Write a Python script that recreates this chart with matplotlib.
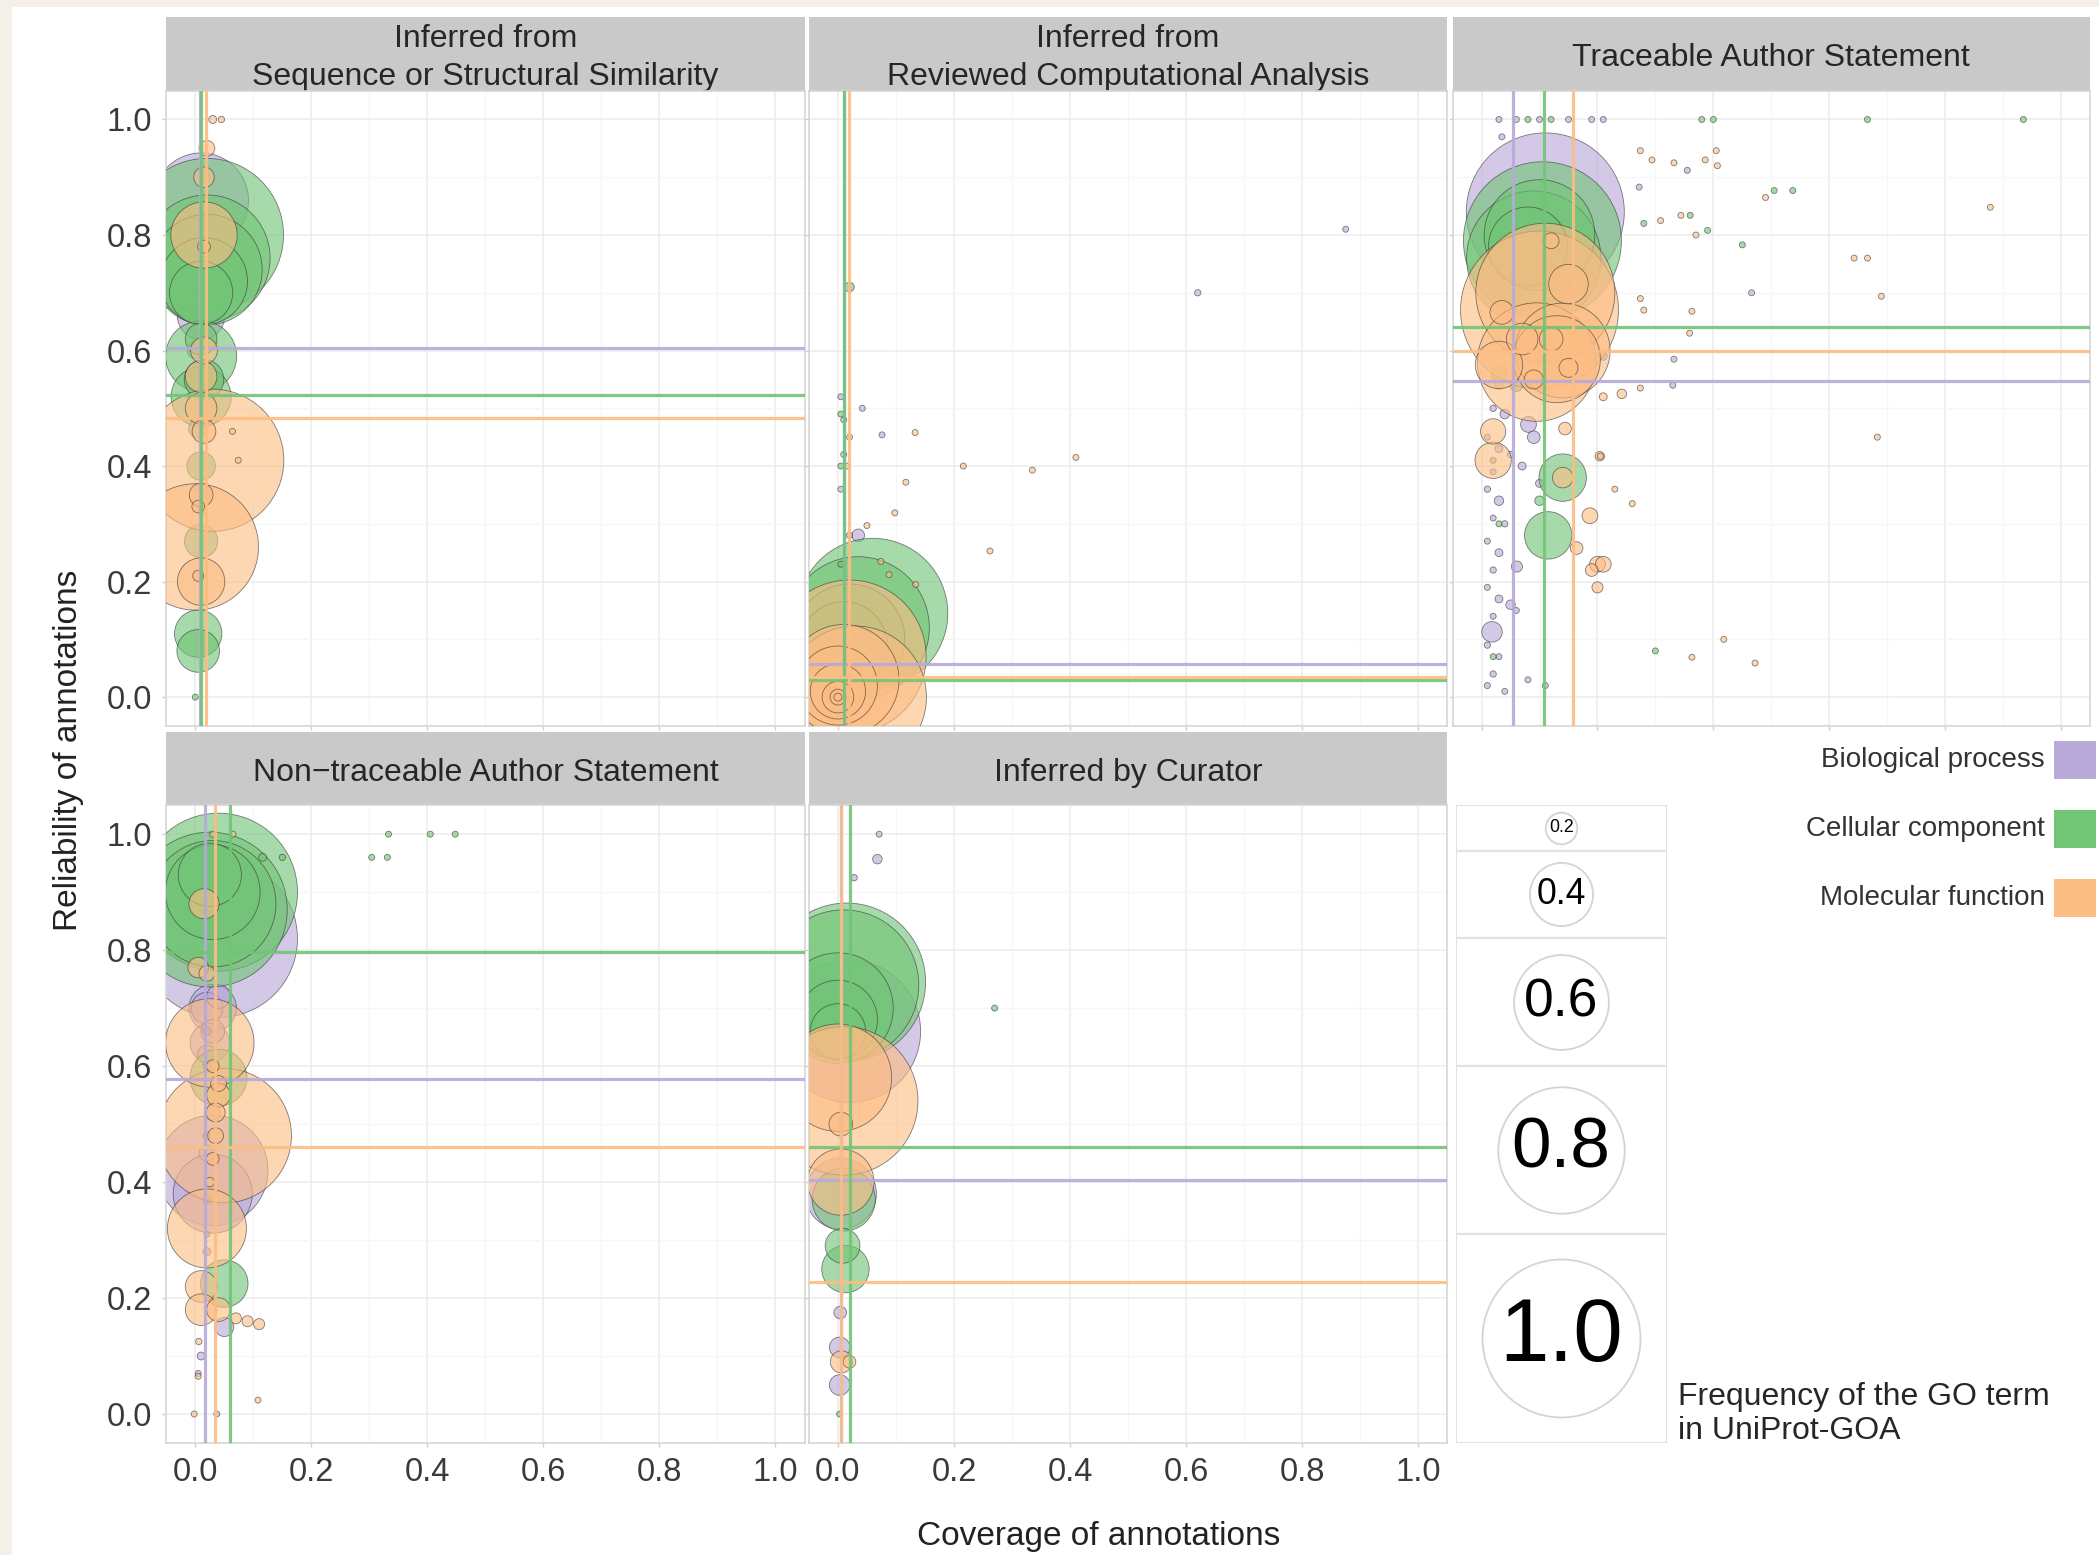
import matplotlib
matplotlib.use("Agg")
import matplotlib.pyplot as plt
from matplotlib.patches import Rectangle
import numpy as np

plt.rcParams['font.family'] = ['Liberation Sans', 'DejaVu Sans']

# (coverage, reliability, frequency)
seq_bp = [(0.01, 0.86, 0.6), (0.01, 0.66, 0.3), (0.0, 0.60, 0.1), (0.005, 0.36, 0.05),
          (0.02, 0.35, 0.04), (0.01, 0.32, 0.03)]
seq_cc = [(0.02, 0.80, 0.97), (0.02, 0.76, 0.8), (0.02, 0.74, 0.7), (0.015, 0.72, 0.55),
          (0.01, 0.70, 0.4), (0.01, 0.59, 0.45), (0.01, 0.52, 0.38), (0.015, 0.55, 0.25),
          (0.01, 0.62, 0.2), (0.01, 0.40, 0.18), (0.005, 0.465, 0.12), (0.01, 0.27, 0.21),
          (0.005, 0.11, 0.3), (0.005, 0.08, 0.27), (0.0, 0.0, 0.03)]
seq_mf = [(0.03, 0.41, 0.9), (0.0, 0.26, 0.8), (0.015, 0.80, 0.42), (0.01, 0.20, 0.3),
          (0.01, 0.555, 0.2), (0.01, 0.50, 0.2), (0.015, 0.60, 0.17), (0.015, 0.46, 0.15),
          (0.01, 0.35, 0.15), (0.015, 0.90, 0.13), (0.02, 0.95, 0.1), (0.005, 0.33, 0.08),
          (0.015, 0.78, 0.08), (0.005, 0.21, 0.07), (0.03, 1.0, 0.05), (0.045, 1.0, 0.04),
          (0.064, 0.46, 0.02), (0.074, 0.41, 0.02)]

rca_bp = [(0.035, 0.28, 0.08), (0.005, 0.10, 0.05), (0.62, 0.70, 0.04), (0.02, 0.28, 0.04),
          (0.042, 0.50, 0.03), (0.02, 0.06, 0.03), (0.076, 0.454, 0.025), (0.01, 0.48, 0.025),
          (0.875, 0.81, 0.02), (0.005, 0.52, 0.02), (0.01, 0.42, 0.02), (0.005, 0.36, 0.02)]
rca_cc = [(0.06, 0.145, 0.95), (0.035, 0.12, 0.9), (0.02, 0.10, 0.7), (0.01, 0.09, 0.55),
          (0.02, 0.71, 0.06), (0.005, 0.49, 0.02), (0.005, 0.40, 0.02), (0.005, 0.23, 0.02)]
rca_mf = [(0.02, 0.07, 0.97), (0.03, 0.0, 0.9), (0.01, 0.03, 0.7), (0.0, 0.02, 0.5),
          (0.0, 0.01, 0.35), (0.0, 0.0, 0.2), (0.0, 0.0, 0.1), (0.0, 0.0, 0.05),
          (0.133, 0.458, 0.02), (0.216, 0.40, 0.02), (0.335, 0.393, 0.02), (0.41, 0.415, 0.02),
          (0.117, 0.372, 0.02), (0.098, 0.319, 0.02), (0.05, 0.297, 0.02), (0.262, 0.253, 0.02),
          (0.074, 0.235, 0.015), (0.088, 0.212, 0.015), (0.134, 0.195, 0.015),
          (0.02, 0.45, 0.015), (0.015, 0.40, 0.015)]

tas_bp = [(0.11, 0.84, 1.0), (0.018, 0.113, 0.13), (0.081, 0.472, 0.1), (0.09, 0.45, 0.08),
          (0.061, 0.226, 0.07), (0.03, 0.34, 0.06), (0.04, 0.49, 0.06), (0.05, 0.16, 0.06),
          (0.03, 0.54, 0.05), (0.03, 0.43, 0.05), (0.03, 0.25, 0.05), (0.03, 0.17, 0.05),
          (0.07, 0.40, 0.05), (0.10, 0.37, 0.05), (0.21, 0.59, 0.05), (0.02, 0.50, 0.04),
          (0.05, 0.42, 0.04), (0.01, 0.36, 0.04), (0.04, 0.30, 0.04), (0.02, 0.22, 0.04),
          (0.01, 0.09, 0.04), (0.02, 0.04, 0.04), (0.01, 0.45, 0.03), (0.02, 0.39, 0.03),
          (0.02, 0.31, 0.03), (0.01, 0.27, 0.03), (0.01, 0.19, 0.03), (0.02, 0.14, 0.03),
          (0.03, 0.07, 0.03), (0.01, 0.02, 0.03), (0.04, 0.01, 0.03), (0.06, 0.15, 0.02),
          (0.08, 0.03, 0.02), (0.11, 0.02, 0.02), (0.466, 0.70, 0.02), (0.332, 0.585, 0.02),
          (0.33, 0.54, 0.02), (0.355, 0.912, 0.02), (0.272, 0.883, 0.02), (0.03, 1.0, 0.02),
          (0.06, 1.0, 0.02), (0.10, 1.0, 0.02), (0.15, 1.0, 0.02), (0.19, 1.0, 0.02),
          (0.21, 1.0, 0.02), (0.035, 0.97, 0.02)]
tas_cc = [(0.105, 0.79, 1.0), (0.09, 0.76, 0.85), (0.10, 0.80, 0.7), (0.08, 0.78, 0.5),
          (0.14, 0.38, 0.3), (0.115, 0.28, 0.3), (0.03, 0.56, 0.1), (0.06, 0.54, 0.08),
          (0.10, 0.34, 0.06), (0.02, 0.41, 0.03), (0.03, 0.30, 0.03), (0.02, 0.07, 0.03),
          (0.30, 0.08, 0.02), (0.505, 0.877, 0.02), (0.537, 0.877, 0.02), (0.36, 0.834, 0.02),
          (0.28, 0.82, 0.02), (0.39, 0.808, 0.02), (0.45, 0.783, 0.02), (0.666, 1.0, 0.02),
          (0.935, 1.0, 0.02), (0.38, 1.0, 0.02), (0.40, 1.0, 0.02), (0.08, 1.0, 0.02),
          (0.12, 1.0, 0.02)]
tas_mf = [(0.10, 0.67, 1.0), (0.11, 0.70, 0.88), (0.095, 0.58, 0.75), (0.14, 0.60, 0.6),
          (0.13, 0.585, 0.55), (0.03, 0.575, 0.3), (0.15, 0.715, 0.25), (0.02, 0.41, 0.23),
          (0.07, 0.62, 0.2), (0.02, 0.46, 0.16), (0.035, 0.666, 0.15), (0.12, 0.62, 0.15),
          (0.14, 0.38, 0.13), (0.15, 0.57, 0.12), (0.09, 0.55, 0.12), (0.12, 0.79, 0.1),
          (0.187, 0.314, 0.1), (0.20, 0.23, 0.1), (0.21, 0.23, 0.1), (0.19, 0.22, 0.08),
          (0.164, 0.258, 0.08), (0.144, 0.465, 0.08), (0.20, 0.19, 0.07), (0.204, 0.417, 0.06),
          (0.242, 0.525, 0.06), (0.21, 0.52, 0.05), (0.205, 0.417, 0.04), (0.359, 0.63, 0.03),
          (0.274, 0.946, 0.02), (0.294, 0.93, 0.02), (0.332, 0.925, 0.02), (0.386, 0.93, 0.02),
          (0.405, 0.946, 0.02), (0.407, 0.92, 0.02), (0.49, 0.865, 0.02), (0.309, 0.825, 0.02),
          (0.344, 0.834, 0.02), (0.37, 0.80, 0.02), (0.878, 0.848, 0.02), (0.643, 0.76, 0.02),
          (0.666, 0.76, 0.02), (0.69, 0.694, 0.02), (0.274, 0.69, 0.02), (0.28, 0.67, 0.02),
          (0.363, 0.668, 0.02), (0.274, 0.535, 0.02), (0.683, 0.45, 0.02), (0.23, 0.36, 0.02),
          (0.26, 0.335, 0.02), (0.363, 0.069, 0.02), (0.418, 0.10, 0.02), (0.472, 0.059, 0.02)]

nas_bp = [(0.04, 0.82, 1.0), (0.03, 0.42, 0.7), (0.03, 0.38, 0.5), (0.03, 0.70, 0.3),
          (0.025, 0.64, 0.25), (0.02, 0.70, 0.2), (0.03, 0.66, 0.15), (0.04, 0.72, 0.15),
          (0.02, 0.62, 0.12), (0.05, 0.15, 0.12), (0.03, 0.52, 0.1), (0.02, 0.45, 0.1),
          (0.01, 0.10, 0.05), (0.02, 0.28, 0.05), (0.005, 0.07, 0.03), (0.037, 0.0, 0.03)]
nas_cc = [(0.04, 0.90, 1.0), (0.025, 0.87, 0.98), (0.03, 0.88, 0.8), (0.03, 0.90, 0.6),
          (0.025, 0.93, 0.4), (0.04, 0.58, 0.36), (0.05, 0.225, 0.3), (0.02, 0.66, 0.05),
          (0.02, 0.60, 0.05), (0.02, 0.48, 0.05), (0.02, 0.37, 0.05), (0.116, 0.96, 0.05),
          (0.15, 0.96, 0.04), (0.02, 0.31, 0.03), (0.333, 1.0, 0.02), (0.405, 1.0, 0.02),
          (0.448, 1.0, 0.02), (0.304, 0.96, 0.02), (0.331, 0.96, 0.02)]
nas_mf = [(0.05, 0.48, 0.85), (0.025, 0.64, 0.56), (0.02, 0.32, 0.5), (0.01, 0.22, 0.2),
          (0.01, 0.18, 0.2), (0.015, 0.88, 0.19), (0.04, 0.18, 0.15), (0.04, 0.55, 0.15),
          (0.005, 0.77, 0.13), (0.035, 0.52, 0.12), (0.02, 0.76, 0.1), (0.035, 0.48, 0.1),
          (0.04, 0.57, 0.1), (0.03, 0.44, 0.08), (0.03, 0.60, 0.08), (0.07, 0.165, 0.07),
          (0.09, 0.16, 0.07), (0.11, 0.155, 0.07), (0.025, 0.40, 0.06), (0.006, 0.125, 0.04),
          (0.005, 0.065, 0.03), (0.108, 0.024, 0.03), (-0.002, 0.0, 0.03), (0.03, 1.0, 0.03),
          (0.065, 1.0, 0.02)]

ic_bp = [(0.02, 0.66, 0.9), (0.005, 0.38, 0.45), (0.003, 0.115, 0.13), (0.003, 0.05, 0.13),
         (0.004, 0.175, 0.08), (0.068, 0.957, 0.06), (0.028, 0.925, 0.04), (0.071, 1.0, 0.02)]
ic_cc = [(0.015, 0.745, 1.0), (0.01, 0.74, 0.95), (0.0, 0.70, 0.7), (0.0, 0.68, 0.5),
         (0.01, 0.37, 0.4), (0.0, 0.66, 0.35), (0.013, 0.25, 0.3), (0.008, 0.29, 0.22),
         (0.003, 0.0, 0.02), (0.27, 0.70, 0.02)]
ic_mf = [(0.01, 0.54, 0.94), (0.0, 0.58, 0.68), (0.005, 0.40, 0.42), (0.005, 0.50, 0.15),
         (0.006, 0.09, 0.14), (0.02, 0.09, 0.08)]

# mean lines (reliability -> horizontal, coverage -> vertical), order bp, cc, mf
mean_rel = [(0.604, 0.523, 0.484), (0.057, 0.030, 0.035), (0.548, 0.641, 0.599),
            (0.578, 0.797, 0.461), (0.403, 0.461, 0.228)]
mean_cov = [(0.008, 0.010, 0.018), (0.010, 0.010, 0.019), (0.054, 0.108, 0.157),
            (0.017, 0.059, 0.034), (0.006, 0.020, 0.006)]

titles = ["Inferred from\nSequence or Structural Similarity",
          "Inferred from\nReviewed Computational Analysis",
          "Traceable Author Statement",
          "Non\u2212traceable Author Statement",
          "Inferred by Curator"]
panels = [(seq_bp, seq_cc, seq_mf), (rca_bp, rca_cc, rca_mf), (tas_bp, tas_cc, tas_mf),
          (nas_bp, nas_cc, nas_mf), (ic_bp, ic_cc, ic_mf)]

categories = ["Biological process", "Cellular component", "Molecular function"]
colors = ["#b8a9d9", "#72c476", "#fcbd84"]
size_breaks = [0.2, 0.4, 0.6, 0.8, 1.0]

W, H = 2099, 1555
D_PX = 158  # bubble diameter (px) for frequency 1.0


def rect(x0, y0, x1, y1):
    return [x0 / W, 1 - y1 / H, (x1 - x0) / W, (y1 - y0) / H]


def bubble_s(f, dmin=0):
    d = np.maximum(np.asarray(f) * D_PX, dmin)
    return (d * 0.72) ** 2


fig = plt.figure(figsize=(W / 100, H / 100), dpi=100)
fig.patch.set_facecolor("white")
cream = "#f4f0e7"
fig.patches.append(Rectangle((0, 0), 12 / W, 1, transform=fig.transFigure,
                             facecolor=cream, edgecolor="none", zorder=-10))
fig.patches.append(Rectangle((0, 1 - 7 / H), 1, 7 / H, transform=fig.transFigure,
                             facecolor=cream, edgecolor="none", zorder=-10))

cols_x = [(166.3, 804.5), (808.9, 1447.3), (1452.6, 2090)]
rows_y = [((16.5, 90.6), (90.6, 726)), ((731.7, 805.2), (805.2, 1443))]
positions = [(0, 0), (0, 1), (0, 2), (1, 0), (1, 1)]

ticks = [0.0, 0.2, 0.4, 0.6, 0.8, 1.0]
minor = [0.1, 0.3, 0.5, 0.7, 0.9]

for i, (r, c) in enumerate(positions):
    x0, x1 = cols_x[c]
    (sy0, sy1), (py0, py1) = rows_y[r]

    # strip
    sax = fig.add_axes(rect(x0, sy0, x1, sy1))
    sax.set_facecolor("#c9c9c9")
    for sp in sax.spines.values():
        sp.set_visible(False)
    sax.set_xticks([])
    sax.set_yticks([])
    sax.text(0.5, 0.44, titles[i], ha="center", va="center", fontsize=23,
             color="#262626", linespacing=1.38, transform=sax.transAxes)

    ax = fig.add_axes(rect(x0, py0, x1, py1))
    ax.set_xlim(-0.05, 1.05)
    ax.set_ylim(-0.05, 1.05)
    ax.set_xticks(ticks)
    ax.set_yticks(ticks)
    ax.set_xticks(minor, minor=True)
    ax.set_yticks(minor, minor=True)
    ax.grid(True, which="major", color="#ececec", lw=1.1, zorder=0)
    ax.grid(True, which="minor", color="#f6f6f6", lw=0.9, zorder=0)
    ax.set_axisbelow(True)
    for sp in ax.spines.values():
        sp.set_color("#d6d6d6")
        sp.set_linewidth(1.2)
    ax.tick_params(which="both", length=0)
    ax.tick_params(which="major", length=3, color="#cfcfcf", width=1,
                   labelsize=23.5, labelcolor="#3a3a3a", pad=7)
    ax.set_xticklabels([f"{t:.1f}" for t in ticks])
    ax.set_yticklabels([f"{t:.1f}" for t in ticks])
    if c != 0:
        ax.tick_params(axis="y", labelleft=False)
    if r == 0:
        ax.tick_params(axis="x", labelbottom=False)

    for k, data in enumerate(panels[i]):
        pts = sorted(data, key=lambda p: -p[2])
        xs = [p[0] for p in pts]
        ys = [p[1] for p in pts]
        fs = [p[2] for p in pts]
        ax.scatter(xs, ys, s=bubble_s(fs, dmin=6), color=colors[k], alpha=0.62,
                   edgecolors=(0.2, 0.2, 0.2, 0.22), linewidths=0.6, zorder=2 + k)
    for k in range(3):
        ax.axhline(mean_rel[i][k], color=colors[k], lw=2.3, alpha=0.9, zorder=6)
        ax.axvline(mean_cov[i][k], color=colors[k], lw=2.3, alpha=0.9, zorder=6)

# axis titles
fig.text(1099 / W, 1 - 1537 / H, "Coverage of annotations", ha="center", va="center",
         fontsize=24, color="#222222")
fig.text(68 / W, 1 - 750 / H, "Reliability of annotations", ha="center", va="center",
         rotation=90, fontsize=24, color="#222222")

# size legend
lx0, ly0, lx1, ly1 = 1455.7, 805.2, 1666.6, 1443
lax = fig.add_axes(rect(lx0, ly0, lx1, ly1))
lax.set_xlim(0, lx1 - lx0)
lax.set_ylim(ly1 - ly0, 0)
lax.axis("off")
bounds = [805.2, 850.5, 938.3, 1066, 1233.8, 1443]
for j, f in enumerate(size_breaks):
    top, bot = bounds[j] - ly0, bounds[j + 1] - ly0
    lax.add_patch(Rectangle((0, top), lx1 - lx0, bot - top, facecolor="white",
                            edgecolor="#e2e2e2", lw=1.5))
    cy = (top + bot) / 2
    lax.scatter([(lx1 - lx0) / 2], [cy], s=bubble_s(f), facecolor="white",
                edgecolor="#d4d4d4", linewidths=1.3, zorder=3)
    lax.text((lx1 - lx0) / 2, cy, f"{f:.1f}", ha="center", va="center",
             fontsize=64 * f, color="black", zorder=4)

fig.text(1678 / W, 1 - 1414 / H, "Frequency of the GO term\nin UniProt-GOA", ha="left",
         va="center", fontsize=23, color="#262626", linespacing=1.2)

# colour legend
for k, (lab, col) in enumerate(zip(categories, colors)):
    cy = [760, 829, 898][k]
    fig.text(2045 / W, 1 - cy / H, lab, ha="right", va="center", fontsize=20, color="#333333")
    fig.patches.append(Rectangle((2054 / W, 1 - (cy + 19) / H), 42 / W, 38 / H,
                                 transform=fig.transFigure, facecolor=col,
                                 edgecolor="none"))

fig.savefig("out.png", dpi=100)
